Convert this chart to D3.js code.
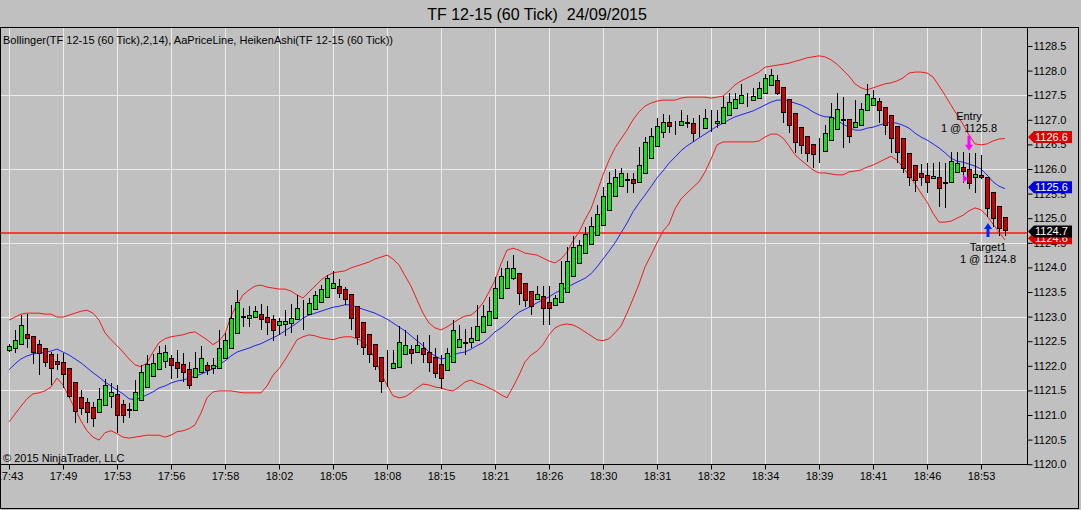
<!DOCTYPE html>
<html>
<head>
<meta charset="utf-8">
<script src="https://cdn.jsdelivr.net/npm/d3@7/dist/d3.min.js"></script>
<style>
  body { margin: 0; background: #c0c0c0; overflow: hidden; }
  svg { display: block; font-family: "Liberation Sans", Arial, sans-serif; }
</style>
</head>
<body>
<script>
// time labels, one every 9 bars
const timeLabels = ["17:43","17:49","17:53","17:56","17:58","18:02","18:05","18:08","18:15","18:21",
  "18:26","18:30","18:31","18:32","18:34","18:39","18:41","18:46","18:53"];

// heiken ashi bars
const openP = [
  1122.32,1122.36,1122.44,1122.65,1122.61,1122.44,1122.36,1122.24,1122.10,1122.08,
  1121.96,1121.67,1121.37,1121.26,1121.16,1121.06,1121.20,1121.39,1121.43,1121.22,
  1121.10,1121.10,1121.31,1121.57,1121.79,1121.93,1122.10,1122.16,1122.08,1122.04,
  1121.93,1121.77,1121.87,1122.02,1121.96,1121.96,1122.16,1122.36,1122.67,1122.99,
  1122.97,1122.99,1123.05,1122.99,1122.95,1122.83,1122.85,1122.87,1122.95,1123.06,
  1123.05,1123.15,1123.30,1123.40,1123.58,1123.62,1123.56,1123.46,1123.22,1122.89,
  1122.65,1122.44,1122.18,1121.95,1121.96,1121.98,1122.24,1122.34,1122.28,1122.36,
  1122.28,1122.18,1122.04,1121.91,1122.08,1122.38,1122.47,1122.48,1122.52,1122.69,
  1122.83,1122.97,1123.38,1123.58,1123.78,1123.89,1123.68,1123.52,1123.36,1123.42,
  1123.30,1123.24,1123.30,1123.50,1123.83,1124.09,1124.29,1124.48,1124.66,1124.86,
  1125.17,1125.45,1125.65,1125.78,1125.80,1125.74,1125.92,1126.22,1126.47,1126.75,
  1126.96,1126.87,1126.89,1126.94,1126.93,1126.83,1126.83,1126.93,1126.93,1126.93,
  1127.10,1127.24,1127.34,1127.42,1127.40,1127.44,1127.54,1127.71,1127.81,1127.67,
  1127.42,1127.14,1126.85,1126.67,1126.51,1126.40,1126.37,1126.59,1126.81,1127.01,
  1127.02,1126.85,1126.89,1127.20,1127.30,1127.38,1127.26,1127.10,1126.87,1126.63,
  1126.33,1126.08,1125.92,1125.88,1125.82,1125.84,1125.72,1125.74,1125.94,1126.04,
  1126.00,1125.84,1125.88,1125.84,1125.53,1125.25,1125.02];
const highP = [
  1122.44,1122.73,1123.03,1123.05,1122.61,1122.52,1122.36,1122.28,1122.24,1122.26,
  1121.96,1121.67,1121.51,1121.35,1121.26,1121.55,1121.73,1121.65,1121.61,1121.31,
  1121.24,1121.71,1122.02,1122.22,1122.24,1122.40,1122.42,1122.22,1122.32,1122.26,
  1122.08,1122.28,1122.40,1122.08,1122.16,1122.73,1122.67,1123.24,1123.54,1123.17,
  1123.22,1123.22,1123.26,1123.22,1123.03,1122.97,1123.13,1123.26,1123.44,1123.34,
  1123.38,1123.52,1123.64,1123.84,1123.93,1123.76,1123.60,1123.46,1123.22,1122.89,
  1122.65,1122.44,1122.18,1122.32,1122.32,1122.81,1122.73,1122.42,1122.63,1122.48,
  1122.63,1122.36,1122.22,1122.36,1122.93,1122.83,1122.75,1122.79,1123.24,1123.24,
  1123.40,1123.81,1123.99,1124.13,1124.25,1123.89,1123.68,1123.52,1123.62,1123.62,
  1123.62,1123.44,1124.13,1124.41,1124.64,1124.56,1124.82,1125.02,1125.27,1125.63,
  1125.94,1126.00,1126.02,1125.92,1125.92,1126.45,1126.65,1126.83,1127.04,1127.12,
  1127.10,1126.98,1127.20,1127.10,1127.04,1127.10,1127.22,1127.20,1127.20,1127.48,
  1127.54,1127.54,1127.73,1127.54,1127.65,1127.77,1127.93,1128.03,1127.91,1127.67,
  1127.42,1127.14,1126.85,1126.67,1126.51,1126.63,1126.89,1127.34,1127.54,1127.46,
  1127.02,1127.40,1127.34,1127.73,1127.61,1127.44,1127.26,1127.10,1126.87,1126.63,
  1126.33,1126.08,1126.10,1126.12,1126.12,1126.14,1126.12,1126.35,1126.35,1126.35,
  1126.33,1126.33,1126.28,1125.84,1125.53,1125.25,1125.02];
const lowP = [
  1122.28,1122.26,1122.44,1122.36,1122.04,1121.81,1121.98,1121.61,1121.92,1121.55,
  1121.35,1120.84,1121.00,1120.84,1120.76,1121.06,1121.20,1121.14,1120.63,1120.84,
  1120.94,1121.10,1121.31,1121.57,1121.79,1121.93,1121.96,1121.73,1121.75,1121.67,
  1121.53,1121.77,1121.87,1121.81,1121.83,1121.96,1122.16,1122.36,1122.67,1122.79,
  1122.79,1122.99,1122.73,1122.63,1122.50,1122.63,1122.61,1122.67,1122.95,1122.73,
  1123.05,1123.15,1123.30,1123.40,1123.58,1123.38,1123.24,1122.73,1122.42,1122.22,
  1122.06,1121.91,1121.45,1121.57,1121.96,1121.98,1122.24,1122.04,1122.28,1122.06,
  1121.87,1121.75,1121.53,1121.91,1122.08,1122.38,1122.22,1122.36,1122.52,1122.69,
  1122.83,1122.97,1123.38,1123.58,1123.74,1123.24,1123.20,1123.03,1123.36,1122.83,
  1122.83,1123.24,1123.30,1123.50,1123.83,1124.09,1124.29,1124.48,1124.66,1124.86,
  1125.17,1125.45,1125.65,1125.51,1125.51,1125.74,1125.92,1126.22,1126.47,1126.63,
  1126.73,1126.69,1126.89,1126.83,1126.55,1126.65,1126.83,1126.75,1126.83,1126.93,
  1127.10,1127.24,1127.34,1127.26,1127.40,1127.44,1127.54,1127.71,1127.50,1126.93,
  1126.73,1126.33,1126.30,1126.14,1126.02,1126.12,1126.37,1126.59,1126.81,1126.43,
  1126.53,1126.85,1126.89,1127.20,1127.30,1126.93,1126.69,1126.33,1126.12,1125.92,
  1125.65,1125.53,1125.65,1125.51,1125.80,1125.23,1125.21,1125.74,1125.94,1125.72,
  1125.59,1125.51,1125.80,1125.02,1124.82,1124.64,1124.64];
const closeP = [
  1122.40,1122.52,1122.83,1122.57,1122.28,1122.26,1122.08,1121.96,1122.04,1121.83,
  1121.39,1121.08,1121.14,1121.06,1120.94,1121.33,1121.61,1121.47,1121.00,1121.00,
  1121.12,1121.47,1121.87,1122.04,1122.06,1122.26,1122.28,1122.02,1121.96,1121.87,
  1121.61,1121.96,1122.16,1121.91,1122.02,1122.36,1122.52,1122.97,1123.30,1123.01,
  1123.03,1123.11,1122.95,1122.89,1122.73,1122.91,1122.91,1122.97,1123.17,1123.05,
  1123.28,1123.44,1123.56,1123.78,1123.68,1123.48,1123.36,1122.97,1122.59,1122.38,
  1122.24,1122.00,1121.69,1121.96,1122.06,1122.48,1122.42,1122.26,1122.42,1122.24,
  1122.08,1121.85,1121.75,1122.26,1122.73,1122.54,1122.48,1122.57,1122.81,1123.01,
  1123.11,1123.58,1123.82,1123.99,1123.99,1123.48,1123.34,1123.22,1123.46,1123.17,
  1123.17,1123.38,1123.68,1124.13,1124.41,1124.46,1124.68,1124.84,1125.09,1125.45,
  1125.72,1125.84,1125.92,1125.79,1125.72,1126.08,1126.55,1126.67,1126.87,1126.96,
  1126.87,1126.88,1126.98,1126.95,1126.73,1126.84,1127.04,1126.94,1126.98,1127.26,
  1127.36,1127.42,1127.50,1127.43,1127.48,1127.65,1127.85,1127.91,1127.54,1127.16,
  1126.89,1126.55,1126.49,1126.33,1126.30,1126.41,1126.73,1127.06,1127.22,1127.00,
  1126.67,1126.96,1127.22,1127.52,1127.44,1127.20,1126.89,1126.63,1126.35,1126.02,
  1125.84,1125.78,1125.84,1125.74,1125.86,1125.61,1125.73,1126.16,1126.12,1125.96,
  1125.72,1125.90,1125.84,1125.21,1125.00,1124.80,1124.76];

// bollinger (2, 14)
const bbUpper = [
  1122.93,1122.99,1123.05,1123.07,1123.07,1123.07,1123.05,1123.05,1122.99,1122.99,
  1123.03,1123.07,1123.11,1123.13,1123.07,1122.93,1122.67,1122.53,1122.41,1122.28,
  1122.14,1122.02,1121.98,1122.06,1122.28,1122.47,1122.55,1122.59,1122.61,1122.63,
  1122.67,1122.69,1122.61,1122.53,1122.43,1122.51,1122.65,1123.01,1123.24,1123.44,
  1123.54,1123.62,1123.64,1123.60,1123.58,1123.56,1123.56,1123.52,1123.44,1123.38,
  1123.50,1123.62,1123.74,1123.83,1123.89,1123.91,1123.93,1123.99,1124.03,1124.07,
  1124.11,1124.17,1124.21,1124.25,1124.17,1124.05,1123.83,1123.62,1123.34,1123.07,
  1122.87,1122.77,1122.73,1122.79,1122.87,1122.95,1123.01,1123.03,1123.13,1123.28,
  1123.50,1123.74,1124.07,1124.35,1124.39,1124.35,1124.29,1124.27,1124.25,1124.19,
  1124.13,1124.09,1124.17,1124.31,1124.54,1124.72,1124.97,1125.19,1125.53,1125.88,
  1126.18,1126.43,1126.61,1126.79,1127.00,1127.16,1127.28,1127.34,1127.38,1127.40,
  1127.40,1127.40,1127.44,1127.46,1127.46,1127.46,1127.46,1127.44,1127.46,1127.48,
  1127.59,1127.71,1127.79,1127.85,1127.91,1127.97,1128.07,1128.09,1128.11,1128.13,
  1128.15,1128.19,1128.22,1128.26,1128.28,1128.30,1128.28,1128.22,1128.13,1128.01,
  1127.89,1127.73,1127.65,1127.61,1127.65,1127.69,1127.73,1127.75,1127.79,1127.85,
  1127.95,1127.97,1127.97,1127.95,1127.87,1127.69,1127.50,1127.30,1127.10,1126.91,
  1126.69,1126.51,1126.49,1126.51,1126.57,1126.61,1126.62];
const bbMiddle = [
  1121.92,1122.04,1122.14,1122.20,1122.24,1122.26,1122.28,1122.30,1122.34,1122.28,
  1122.22,1122.14,1122.06,1121.96,1121.86,1121.77,1121.67,1121.59,1121.51,1121.43,
  1121.33,1121.31,1121.35,1121.41,1121.47,1121.55,1121.59,1121.65,1121.69,1121.71,
  1121.75,1121.79,1121.83,1121.88,1121.94,1122.02,1122.10,1122.20,1122.28,1122.32,
  1122.36,1122.41,1122.45,1122.51,1122.57,1122.63,1122.71,1122.79,1122.87,1122.97,
  1123.03,1123.07,1123.11,1123.15,1123.19,1123.21,1123.24,1123.24,1123.19,1123.15,
  1123.11,1123.07,1123.01,1122.95,1122.87,1122.79,1122.71,1122.61,1122.51,1122.41,
  1122.28,1122.20,1122.14,1122.16,1122.22,1122.26,1122.28,1122.34,1122.41,1122.47,
  1122.57,1122.69,1122.77,1122.87,1122.99,1123.09,1123.15,1123.21,1123.28,1123.34,
  1123.40,1123.48,1123.54,1123.60,1123.66,1123.72,1123.78,1123.87,1124.01,1124.17,
  1124.33,1124.50,1124.70,1124.90,1125.13,1125.31,1125.47,1125.64,1125.82,1125.96,
  1126.12,1126.24,1126.37,1126.47,1126.55,1126.63,1126.71,1126.79,1126.87,1126.93,
  1127.00,1127.06,1127.10,1127.14,1127.18,1127.24,1127.30,1127.36,1127.40,1127.40,
  1127.38,1127.34,1127.30,1127.24,1127.16,1127.10,1127.06,1127.06,1127.00,1126.91,
  1126.85,1126.79,1126.79,1126.83,1126.85,1126.89,1126.93,1126.95,1126.93,1126.89,
  1126.83,1126.73,1126.65,1126.59,1126.51,1126.43,1126.33,1126.22,1126.16,1126.14,
  1126.10,1126.06,1126.00,1125.88,1125.74,1125.65,1125.60];
const bbLower = [
  1120.86,1121.02,1121.18,1121.33,1121.43,1121.45,1121.49,1121.57,1121.75,1121.61,
  1121.37,1121.12,1120.88,1120.68,1120.55,1120.49,1120.64,1120.68,1120.62,1120.55,
  1120.53,1120.55,1120.57,1120.59,1120.59,1120.59,1120.55,1120.59,1120.66,1120.68,
  1120.72,1120.80,1121.04,1121.35,1121.47,1121.49,1121.49,1121.49,1121.47,1121.45,
  1121.45,1121.45,1121.45,1121.59,1121.81,1121.94,1122.12,1122.32,1122.53,1122.59,
  1122.63,1122.61,1122.57,1122.55,1122.53,1122.57,1122.59,1122.59,1122.55,1122.49,
  1122.38,1122.12,1121.85,1121.61,1121.39,1121.35,1121.37,1121.45,1121.55,1121.63,
  1121.61,1121.57,1121.55,1121.51,1121.49,1121.57,1121.67,1121.71,1121.65,1121.61,
  1121.55,1121.49,1121.41,1121.35,1121.57,1121.81,1122.08,1122.22,1122.30,1122.43,
  1122.63,1122.77,1122.83,1122.85,1122.83,1122.77,1122.69,1122.61,1122.53,1122.51,
  1122.55,1122.67,1122.81,1123.07,1123.36,1123.66,1124.01,1124.25,1124.50,1124.74,
  1124.88,1125.19,1125.39,1125.51,1125.63,1125.74,1125.94,1126.20,1126.49,1126.55,
  1126.55,1126.55,1126.55,1126.55,1126.55,1126.57,1126.65,1126.71,1126.71,1126.63,
  1126.47,1126.29,1126.18,1126.08,1125.98,1125.92,1125.92,1125.90,1125.88,1125.88,
  1125.94,1125.96,1125.98,1126.04,1126.08,1126.14,1126.20,1126.26,1126.18,1126.04,
  1125.86,1125.70,1125.51,1125.33,1125.10,1124.92,1124.92,1124.94,1125.00,1125.06,
  1125.15,1125.21,1125.17,1125.05,1124.88,1124.72,1124.56];

const lastPrice = 1124.7;
const entryBar = 160, entryPrice = 1125.8;
const targetBar = 163, targetPrice = 1124.8;

const drawChart = () => {
	const width = 1081;
	const height = 510;
	const plot = {left: 0, top: 27, right: 1027, bottom: 464};
	const upColor = "#14e014";
	const downColor = "#cc0000";

	d3.select('body').selectAll('svg').remove();

	const svg = d3.select('body')
		.append('svg')
		.attr('width', width)
		.attr('height', height);

	const xScale = d3.scaleLinear()
		.domain([0, openP.length - 1])
		.range([9, 1005]);

	const yScale = d3.scaleLinear()
		.domain([1120, 1128.5])
		.range([464.2, 46]);

	// title + header texts
	svg.append('text')
		.attr('x', 537).attr('y', 20)
		.attr('text-anchor', 'middle')
		.attr('xml:space', 'preserve')
		.style('white-space', 'pre')
		.style('font-size', '16px')
		.text('TF 12-15 (60 Tick)  24/09/2015');

	const plotG = svg.append('g');

	// grid
	const gridX = timeLabels.map((d, k) => k * 9);
	plotG.selectAll('.vgrid').data(gridX).enter()
		.append('line')
		.attr('x1', d => Math.round(xScale(d)) + 0.5)
		.attr('x2', d => Math.round(xScale(d)) + 0.5)
		.attr('y1', plot.top).attr('y2', plot.bottom)
		.attr('stroke', '#ececec');

	const gridY = d3.range(1121.5, 1128, 1.5);
	plotG.selectAll('.hgrid').data(gridY).enter()
		.append('line')
		.attr('x1', plot.left).attr('x2', plot.right)
		.attr('y1', d => Math.round(yScale(d)) + 0.5)
		.attr('y2', d => Math.round(yScale(d)) + 0.5)
		.attr('stroke', '#ececec');

	svg.append('text')
		.attr('x', 3).attr('y', 44)
		.style('font-size', '11px')
		.attr('textLength', 390)
		.text('Bollinger(TF 12-15 (60 Tick),2,14), AaPriceLine, HeikenAshi(TF 12-15 (60 Tick))');

	svg.append('text')
		.attr('x', 3).attr('y', 462)
		.style('font-size', '11px')
		.text('\u00a9 2015 NinjaTrader, LLC');

	// bollinger bands
	const bandLine = d3.line()
		.x((d, i) => xScale(i))
		.y(d => yScale(d));

	plotG.append('path').attr('d', bandLine(bbUpper))
		.attr('fill', 'none').attr('stroke', '#ee1c1c').attr('stroke-width', 1);
	plotG.append('path').attr('d', bandLine(bbLower))
		.attr('fill', 'none').attr('stroke', '#ee1c1c').attr('stroke-width', 1);
	plotG.append('path').attr('d', bandLine(bbMiddle))
		.attr('fill', 'none').attr('stroke', '#2222ee').attr('stroke-width', 1);

	// price line
	plotG.append('line')
		.attr('x1', plot.left).attr('x2', plot.right)
		.attr('y1', Math.round(yScale(lastPrice)))
		.attr('y2', Math.round(yScale(lastPrice)))
		.attr('stroke', '#ff1414')
		.attr('stroke-width', 1.4);

	// candles
	const bars = openP.map((o, i) => ({i: i, o: o, h: highP[i], l: lowP[i], c: closeP[i]}));
	const candle = plotG.selectAll('.candle').data(bars).enter()
		.append('g')
		.attr('class', 'candle')
		.attr('shape-rendering', 'crispEdges');

	candle.append('line')
		.attr('x1', d => Math.round(xScale(d.i)) + 0.5)
		.attr('x2', d => Math.round(xScale(d.i)) + 0.5)
		.attr('y1', d => yScale(d.h))
		.attr('y2', d => yScale(d.l))
		.attr('stroke', '#000');

	candle.append('rect')
		.attr('x', d => Math.round(xScale(d.i)) - 1.5)
		.attr('width', 4)
		.attr('y', d => Math.round(yScale(Math.max(d.o, d.c))) + 0.5)
		.attr('height', d => Math.max(0, Math.round(yScale(Math.min(d.o, d.c))) - Math.round(yScale(Math.max(d.o, d.c)))))
		.attr('fill', d => d.c >= d.o ? upColor : downColor)
		.attr('stroke', '#000');

	// entry / target markings
	const arrowPath = (cx, y0, y1) => {
		const dir = y1 > y0 ? 1 : -1;
		const neck = y1 - dir * 6;
		return `M${cx - 1.5},${y0} L${cx + 1.5},${y0} L${cx + 1.5},${neck} L${cx + 4},${neck} L${cx},${y1} L${cx - 4},${neck} L${cx - 1.5},${neck} Z`;
	};

	const ex = xScale(entryBar);
	const eTip = yScale(highP[entryBar]) - 2;
	plotG.append('path').attr('d', arrowPath(ex, eTip - 15, eTip)).attr('fill', '#ff00ff');
	const ey = yScale(entryPrice);
	plotG.append('path')
		.attr('d', `M${ex - 6},${ey - 4} L${ex - 1},${ey} L${ex - 6},${ey + 4} Z`)
		.attr('fill', '#ff00ff');
	plotG.append('text').attr('x', ex).attr('y', 120)
		.attr('text-anchor', 'middle').style('font-size', '11px').text('Entry');
	plotG.append('text').attr('x', ex).attr('y', 131.5)
		.attr('text-anchor', 'middle').style('font-size', '11px').text('1 @ ' + entryPrice.toFixed(1));

	const tx = xScale(targetBar) + 1;
	const tTip = yScale(targetPrice) - 5;
	plotG.append('path').attr('d', arrowPath(tx, tTip + 14, tTip)).attr('fill', '#0022ff');
	plotG.append('text').attr('x', tx).attr('y', 251)
		.attr('text-anchor', 'middle').style('font-size', '11px').text('Target1');
	plotG.append('text').attr('x', tx).attr('y', 263)
		.attr('text-anchor', 'middle').style('font-size', '11px').text('1 @ ' + targetPrice.toFixed(1));

	// axes
	const yAxis = d3.axisRight(yScale)
		.tickValues(d3.range(1120, 1128.51, 0.5))
		.tickFormat(d3.format('.1f'))
		.tickSize(5)
		.tickPadding(1);

	svg.append('g')
		.attr('class', 'yAxis')
		.attr('transform', `translate(${plot.right + 0.5},0)`)
		.call(yAxis);

	const xAxis = d3.axisBottom(xScale)
		.tickValues(gridX)
		.tickFormat((d, k) => timeLabels[k])
		.tickSize(5)
		.tickPadding(3);

	svg.append('g')
		.attr('class', 'xAxis')
		.attr('transform', `translate(0,${plot.bottom + 0.5})`)
		.call(xAxis);

	svg.selectAll('.yAxis path, .xAxis path').remove();
	svg.selectAll('.yAxis text, .xAxis text')
		.style('font-size', '11px')
		.style('font-family', '"Liberation Sans", Arial, sans-serif')
		.attr('fill', '#000');
	svg.selectAll('.tick line').attr('stroke', '#000');

	// borders
	svg.append('line')
		.attr('x1', 0).attr('x2', plot.right + 1)
		.attr('y1', plot.bottom + 0.5).attr('y2', plot.bottom + 0.5)
		.attr('stroke', '#000');
	svg.append('line')
		.attr('x1', plot.right + 0.5).attr('x2', plot.right + 0.5)
		.attr('y1', plot.top).attr('y2', plot.bottom + 1)
		.attr('stroke', '#000');
	svg.append('rect')
		.attr('x', 0.5).attr('y', plot.top + 0.5)
		.attr('width', 1078).attr('height', 481)
		.attr('fill', 'none').attr('stroke', '#000');

	// price markers on the right axis
	const markers = [
		{v: bbLower[bbLower.length - 1], fill: '#dd0000'},
		{v: bbUpper[bbUpper.length - 1], fill: '#dd0000'},
		{v: bbMiddle[bbMiddle.length - 1], fill: '#0000dd'},
		{v: lastPrice, fill: '#000000'}
	];
	const mk = svg.selectAll('.marker').data(markers).enter()
		.append('g')
		.attr('class', 'marker')
		.attr('transform', d => `translate(${plot.right + 1},${yScale(d.v) - 1.5})`);
	mk.append('path')
		.attr('d', 'M0,0 L6,-6 L44,-6 L44,6 L6,6 Z')
		.attr('fill', d => d.fill);
	mk.append('text')
		.attr('x', 7).attr('y', 4)
		.style('font-size', '11px')
		.attr('fill', '#fff')
		.text(d => d.v.toFixed(1));
};

drawChart();
</script>
</body>
</html>
